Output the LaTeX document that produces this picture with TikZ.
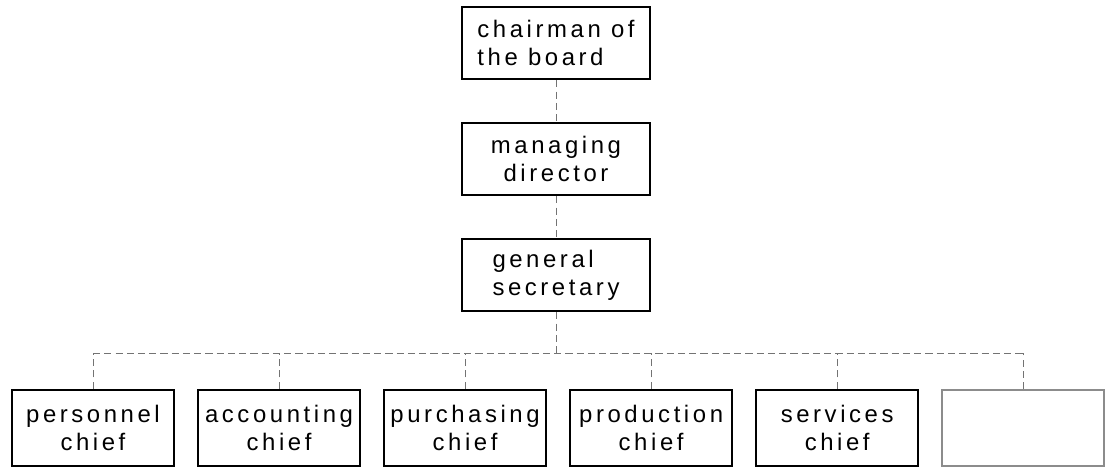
\documentclass[tikz,border=0pt]{standalone}
\usepackage{fontspec}
\newfontfamily\orgfont{Liberation Sans}[LetterSpace=15]
\usetikzlibrary{positioning}

\begin{document}
\begin{tikzpicture}[x=0.025cm,y=-0.025cm,node distance=2.9cm,on grid,
	box/.style={draw,line width=1.8pt,minimum width=4.7cm,minimum height=1.8cm,
		align=center,font=\orgfont\fontsize{17}{20}\selectfont},
	chiefbox/.style={box,minimum width=4.05cm,minimum height=1.9cm},
	link/.style={black!55,line width=0.5pt,dash pattern=on 5pt off 3pt}]

	\useasboundingbox (0,0) rectangle (1106,471);

	\node[box,align=left] (chair) at (556,43) {chairman of\\the board};
	\node[box] (md) [below=of chair] {managing\\director};
	\node[box,align=left] (gs) [below=of md] {general\\secretary};

	\node[chiefbox] (pers) at (93,428) {personnel\\chief};
	\node[chiefbox] (acc) [right=4.65cm of pers] {accounting\\chief};
	\node[chiefbox] (purch) [right=4.65cm of acc] {purchasing\\chief};
	\node[chiefbox] (prod) [right=4.65cm of purch] {production\\chief};
	\node[chiefbox] (serv) [right=4.65cm of prod] {services\\chief};
	\node[chiefbox,draw=black!45,line width=1.2pt] (other) [right=4.65cm of serv] {};

	\coordinate (bus) at (560,353);

	\draw[link] (chair) -- (md);
	\draw[link] (md) -- (gs);
	\draw[link] (gs) -- (gs.south |- bus);
	\draw[link] (pers.north |- bus) -- (other.north |- bus);
	\foreach \n in {pers,acc,purch,prod,serv,other}
		\draw[link] (\n.north) -- (\n.north |- bus);

\end{tikzpicture}
\end{document}
